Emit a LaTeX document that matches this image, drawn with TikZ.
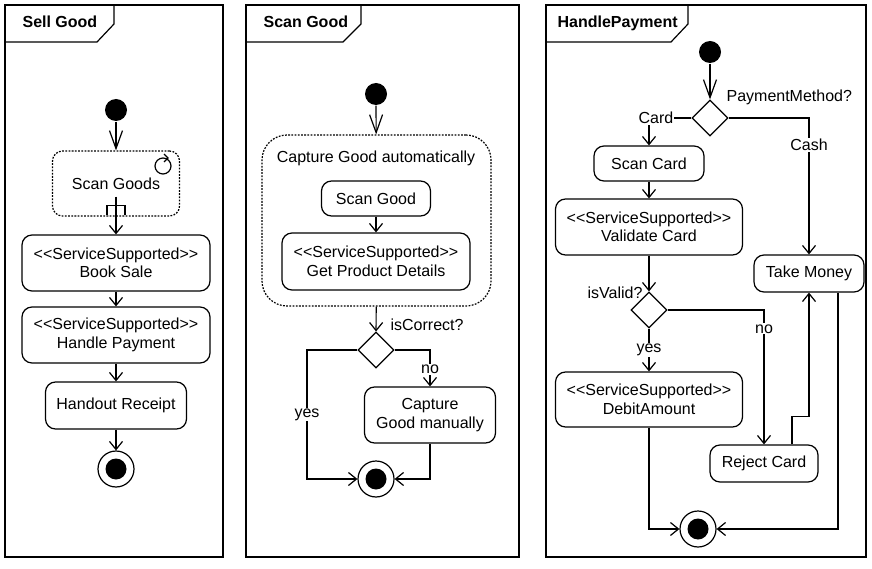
\documentclass[tikz,border=0pt]{standalone}
\usepackage{fontspec}
\setmainfont{Liberation Sans}
\usetikzlibrary{arrows.meta,shapes.geometric}
\newcommand{\svcst}{<{}<ServiceSupported>{}>}

\begin{document}
\begin{tikzpicture}[x=1pt,y=-1pt,line width=1.2pt,
  font=\fontsize{16}{18.5}\selectfont,
  act/.style={draw, rounded corners=10pt, align=center, inner sep=2pt},
  pending/.style={dash pattern=on 1.8pt off 1.4pt},
  startnode/.style={circle, fill=black, minimum size=22pt, inner sep=0pt},
  endnode/.style={circle, draw, minimum size=36pt, inner sep=0pt,
    path picture={\fill[black] (path picture bounding box.center) circle (10.5pt);}},
  decision/.style={diamond, draw, minimum width=36pt, minimum height=36pt, inner sep=0pt},
  flow/.style={-{Straight Barb[length=8pt,width=13pt]}},
  startflow/.style={-{Straight Barb[length=18pt,width=13pt]}},
  guard/.style={fill=white, inner sep=1pt},
  frametitle/.style={font=\fontsize{16}{19}\selectfont\bfseries, anchor=base west, inner sep=0pt}]
\useasboundingbox (0,0) rectangle (872,569);

% Sell Good
\draw (5,5) rectangle (223,557);
\draw (5,42) -- (97,42) -- (114,24) -- (114,5);
\node[frametitle] (tsell) at (22,28) {Sell Good};
\node[startnode] (s1) at (116,110) {};
\node[act, pending, minimum width=127pt, minimum height=65pt] (scangoods) at (116,183.5) {Scan Goods};
\node[act, minimum width=188pt, minimum height=56pt] (booksale) at (116,263) {\svcst\\Book Sale};
\node[act, minimum width=188pt, minimum height=56pt] (handlepay) at (116,335) {\svcst\\Handle Payment};
\node[act, minimum width=141pt, minimum height=47pt] (handout) at (116,405.5) {Handout Receipt};
\node[endnode] (end1) at (116,469) {};

\draw (163,166) circle (8pt);
\draw (164,154) -- (168,158) -- (164,162);
\draw ([yshift=20pt]scangoods.south) -- (scangoods.south);
\draw ([xshift=-9pt,yshift=2pt]scangoods.south) -- ++(0,-9) -- ++(18,0) -- ++(0,9);

\draw[startflow] (s1) -- (scangoods);
\draw[flow] (scangoods) -- (booksale);
\draw[flow] (booksale) -- (handlepay);
\draw[flow] (handlepay) -- (handout);
\draw[flow] (handout) -- (end1);

% Scan Good
\draw (246,5) rectangle (519,557);
\draw (246,42) -- (343,42) -- (361,24) -- (361,5);
\node[frametitle] (tscan) at (263,28) {Scan Good};
\node[startnode] (s2) at (376,94) {};
\node[act, pending, rounded corners=25pt, minimum width=229pt, minimum height=171pt] (capauto) at (376.5,220.5) {};
\node (capautotext) at (376,158) {Capture Good automatically};
\node[act, minimum width=109pt, minimum height=35pt] (scangood) at (376,198.5) {Scan Good};
\node[act, minimum width=188pt, minimum height=57pt] (getprod) at (376,261.5) {\svcst\\Get Product Details};
\node[decision] (correct) at (376,350) {};
\node[anchor=west, inner sep=0pt] (correctq) at (390,325) {isCorrect?};
\node[act, minimum width=131pt, minimum height=56pt] (capman) at (430,415) {Capture\\Good manually};
\node[endnode] (end2) at (376,479) {};
\coordinate (yesturn) at (307,350);

\draw[startflow] (s2) -- (capauto);
\draw[flow] (scangood) -- (getprod);
\draw[flow] (capauto) -- (correct);
\draw[flow] (correct) -- (yesturn) |- node[guard, pos=0.25]{yes} (end2);
\draw[flow] (correct) -| node[guard, pos=0.77]{no} (capman);
\draw[flow] (capman) |- (end2);

% HandlePayment
\draw (546,5) rectangle (866,557);
\draw (546,42) -- (671,42) -- (688,24) -- (688,5);
\node[frametitle] (tpay) at (557,28) {HandlePayment};
\node[startnode] (s3) at (710,52) {};
\node[decision] (method) at (710,118) {};
\node[anchor=west, inner sep=0pt] (methodq) at (726,97) {PaymentMethod?};
\node[act, minimum width=110pt, minimum height=35pt] (scancard) at (649,163.5) {Scan Card};
\node[act, minimum width=187pt, minimum height=56pt] (validate) at (649,227) {\svcst\\Validate Card};
\node[decision] (valid) at (649,310) {};
\node[anchor=east, inner sep=0pt] (validq) at (643,293) {isValid?};
\node[act, minimum width=187pt, minimum height=55pt] (debit) at (649,399.5) {\svcst\\DebitAmount};
\node[act, minimum width=110pt, minimum height=37pt] (takemoney) at (809,273.5) {Take Money};
\node[act, minimum width=108pt, minimum height=37pt] (reject) at (764,463.5) {Reject Card};
\node[endnode] (end3) at (698,529) {};

\draw[startflow] (s3) -- (method);
\draw[flow] (method) -| node[guard, pos=0.5, xshift=7pt]{Card} (scancard);
\draw[flow] (method) -| node[guard, pos=0.6]{Cash} (takemoney);
\draw[flow] (scancard) -- (validate);
\draw[flow] (validate) -- (valid);
\draw[flow] (valid) -- node[guard]{yes} (debit);
\draw[flow] (valid) -| node[guard, pos=0.57]{no} (reject);
\draw[flow] ([xshift=28pt]reject.north) -- ++(0,-28) -| (takemoney);
\draw[flow] ([xshift=29pt]takemoney.south) |- (end3);
\draw[flow] (debit) |- (end3);

\end{tikzpicture}
\end{document}
